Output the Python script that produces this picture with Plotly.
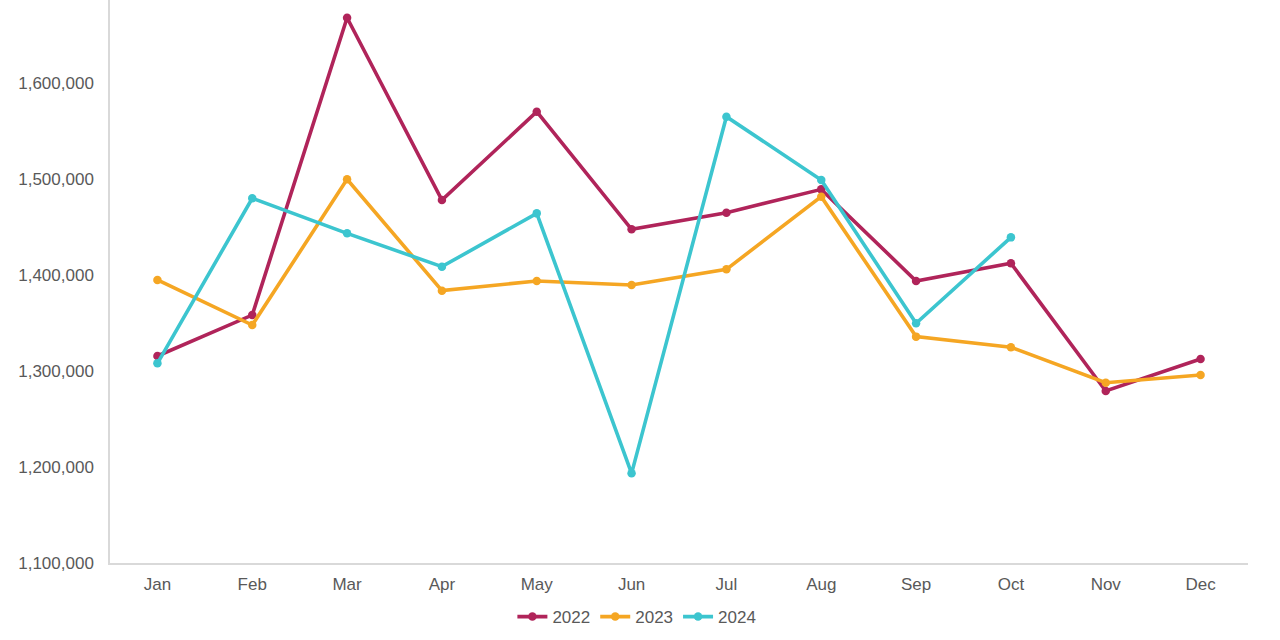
import plotly.graph_objects as go

months = ["Jan", "Feb", "Mar", "Apr", "May", "Jun", "Jul", "Aug", "Sep", "Oct", "Nov", "Dec"]

s2022 = [1315600, 1358300, 1668000, 1478100, 1570100, 1447600, 1464900, 1489200, 1393800, 1412200, 1279200, 1312500]
s2023 = [1394800, 1347900, 1499700, 1383700, 1393800, 1389600, 1405900, 1481600, 1335800, 1324700, 1287800, 1295800]
s2024 = [1308000, 1479900, 1443400, 1408700, 1464200, 1193400, 1564900, 1499000, 1349700, 1439200]

y_ticks = [1100000, 1200000, 1300000, 1400000, 1500000, 1600000]

series = [
    ("2022", s2022, "#B0245A"),
    ("2023", s2023, "#F5A623"),
    ("2024", s2024, "#3CC5CF"),
]

fig = go.Figure()
for name, vals, color in series:
    fig.add_trace(go.Scatter(
        x=months[:len(vals)], y=vals, name=name, mode="lines+markers",
        line=dict(color=color, width=3.6),
        marker=dict(color=color, size=8.5),
    ))

fig.update_layout(
    width=1280, height=640,
    margin=dict(l=110, r=32, t=0, b=77),
    paper_bgcolor="white", plot_bgcolor="white",
    font=dict(family="Liberation Sans, Arial, sans-serif", size=17, color="#595959"),
    showlegend=True,
    legend=dict(orientation="h", x=0.463, xanchor="center", y=-0.096, yanchor="middle",
                font=dict(size=17, color="#595959"), itemwidth=30, tracegroupgap=0),
)
fig.update_xaxes(
    type="category", categoryorder="array", categoryarray=months,
    range=[-0.5, 11.5], showgrid=False, zeroline=False,
    showline=True, linecolor="#d9d9d9", linewidth=1.5,
    ticks="", ticklabelstandoff=5,
)
fig.update_yaxes(
    range=[1100000, 1686458], tickvals=y_ticks, tickformat=",",
    showgrid=False, zeroline=False,
    showline=True, linecolor="#d9d9d9", linewidth=1.5,
    ticks="", ticklabelstandoff=11,
)

fig.write_html("out.html")
